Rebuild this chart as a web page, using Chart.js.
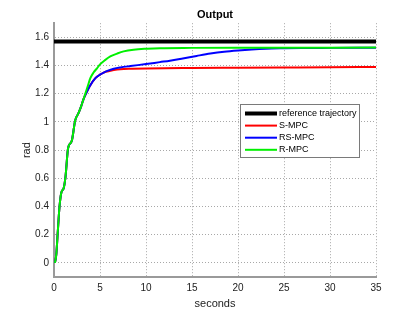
<!DOCTYPE html>
<html>
<head>
<meta charset="utf-8">
<title>Output</title>
<script src="https://cdn.jsdelivr.net/npm/chart.js@4.4.1/dist/chart.umd.min.js"></script>
<style>
  html, body { margin: 0; padding: 0; background: #fff; }
  #wrap { width: 415px; height: 312px; }
</style>
</head>
<body>
<div id="wrap"><canvas id="outChart" width="415" height="312"></canvas></div>
<script>
// axis ticks
const xTicks = [0, 5, 10, 15, 20, 25, 30, 35];
const yTicks = [0, 0.2, 0.4, 0.6, 0.8, 1, 1.2, 1.4, 1.6];

// reference trajectory (pi/2)
const refTime = [0, 35];
const refValue = [1.5708, 1.5708];

// S-MPC
const smpcTime = [0.1, 0.25, 0.4, 0.6, 0.8, 1.05, 1.25, 1.5, 1.6, 1.95, 2.3, 2.65, 2.95, 3.2, 3.4, 3.95, 4.5, 5.0, 5.4, 5.8, 6.5, 7.2, 8.5, 10, 15, 20, 25, 30, 35];
const smpcValue = [0, 0.06, 0.21, 0.40, 0.50, 0.53, 0.61, 0.80, 0.83, 0.87, 1.01, 1.06, 1.11, 1.16, 1.19, 1.26, 1.31, 1.335, 1.35, 1.358, 1.368, 1.374, 1.377, 1.379, 1.382, 1.384, 1.386, 1.388, 1.389];

// RS-MPC
const rsmpcTime = [0.1, 0.25, 0.4, 0.6, 0.8, 1.05, 1.25, 1.5, 1.6, 1.95, 2.3, 2.65, 2.95, 3.2, 3.4, 3.95, 4.5, 5.0, 5.4, 5.8, 6.5, 7.2, 8.3, 10, 11.5, 12.6, 14, 15.5, 17, 18.5, 20, 21.5, 23, 25, 27, 30, 35];
const rsmpcValue = [0, 0.06, 0.21, 0.40, 0.50, 0.53, 0.61, 0.80, 0.83, 0.87, 1.01, 1.06, 1.11, 1.16, 1.19, 1.26, 1.31, 1.335, 1.35, 1.362, 1.377, 1.386, 1.396, 1.41, 1.424, 1.434, 1.45, 1.468, 1.485, 1.498, 1.507, 1.514, 1.519, 1.522, 1.524, 1.525, 1.526];

// R-MPC
const rmpcTime = [0.1, 0.25, 0.4, 0.6, 0.8, 1.05, 1.25, 1.5, 1.6, 1.95, 2.3, 2.65, 2.95, 3.2, 3.4, 3.7, 3.95, 4.3, 4.67, 5.03, 5.58, 6.12, 6.85, 7.57, 8.65, 10.1, 11.5, 15, 20, 35];
const rmpcValue = [0, 0.06, 0.21, 0.40, 0.50, 0.53, 0.61, 0.80, 0.83, 0.87, 1.01, 1.06, 1.11, 1.16, 1.2, 1.26, 1.31, 1.35, 1.38, 1.41, 1.44, 1.464, 1.484, 1.50, 1.512, 1.519, 1.523, 1.525, 1.526, 1.527];

const FONT = '"Liberation Sans", Arial, Helvetica, sans-serif';

function pts(t, v) {
  return t.map((x, i) => ({ x: x, y: v[i] }));
}

// legend drawn inside the plot like MATLAB's
const legendBox = {
  id: 'legendBox',
  afterDraw(chart) {
    const ctx = chart.ctx;
    const x = 240, y = 104, w = 119, h = 53;
    ctx.save();
    ctx.fillStyle = '#fff';
    ctx.fillRect(x, y, w, h);
    ctx.strokeStyle = '#7a7a7a';
    ctx.lineWidth = 1;
    ctx.strokeRect(x + 0.5, y + 0.5, w, h);
    ctx.font = '9px ' + FONT;
    ctx.textBaseline = 'middle';
    chart.data.datasets.forEach((ds, i) => {
      const ry = y + 9.5 + i * 12.1;
      ctx.strokeStyle = ds.borderColor;
      ctx.lineWidth = ds.borderWidth;
      ctx.beginPath();
      ctx.moveTo(x + 5, ry);
      ctx.lineTo(x + 37, ry);
      ctx.stroke();
      ctx.fillStyle = '#000';
      ctx.fillText(ds.label, x + 39, ry);
    });
    ctx.restore();
  }
};

const gridOpts = { color: '#a8a8a8', lineWidth: 1, drawTicks: false };
const borderOpts = { display: true, color: '#9a9a9a', width: 2, dash: [1, 2] };

new Chart(document.getElementById('outChart'), {
  type: 'line',
  data: {
    datasets: [
      { label: 'reference trajectory', data: pts(refTime, refValue), borderColor: '#000000', borderWidth: 4, order: 3 },
      { label: 'S-MPC', data: pts(smpcTime, smpcValue), borderColor: '#ff0000', borderWidth: 2, order: 2 },
      { label: 'RS-MPC', data: pts(rsmpcTime, rsmpcValue), borderColor: '#0000ff', borderWidth: 2, order: 1 },
      { label: 'R-MPC', data: pts(rmpcTime, rmpcValue), borderColor: '#00f000', borderWidth: 2, order: 0 }
    ]
  },
  options: {
    responsive: false,
    animation: false,
    devicePixelRatio: 1,
    layout: { padding: { top: 0, right: 39, bottom: 0, left: 0 } },
    elements: {
      point: { radius: 0 },
      line: { cubicInterpolationMode: 'monotone', borderCapStyle: 'butt', fill: false }
    },
    plugins: {
      legend: { display: false },
      tooltip: { enabled: false },
      title: {
        display: true,
        fullSize: false,
        text: 'Output',
        color: '#000',
        font: { family: FONT, size: 11, weight: 'bold' },
        padding: { top: 8, bottom: 2 }
      }
    },
    scales: {
      x: {
        type: 'linear',
        min: 0,
        max: 35,
        grid: gridOpts,
        border: borderOpts,
        afterBuildTicks: (scale) => { scale.ticks = xTicks.map(v => ({ value: v })); },
        afterFit: (scale) => { scale.height = 35; },
        ticks: { color: '#222', font: { family: FONT, size: 10 }, padding: 5, autoSkip: false, maxRotation: 0, callback: (v) => String(v) },
        title: { display: true, text: 'seconds', color: '#222', font: { family: FONT, size: 11 }, padding: { top: 0, bottom: 1 } }
      },
      y: {
        type: 'linear',
        min: -0.1,
        max: 1.7,
        grid: gridOpts,
        border: borderOpts,
        afterBuildTicks: (scale) => { scale.ticks = yTicks.map(v => ({ value: v })); },
        afterFit: (scale) => { scale.width = 54; },
        ticks: { color: '#222', font: { family: FONT, size: 10 }, padding: 5, callback: (v) => String(v) },
        title: { display: true, text: 'rad', color: '#222', font: { family: FONT, size: 11 }, padding: { top: 20, bottom: 0 } }
      }
    }
  },
  plugins: [legendBox]
});
</script>
</body>
</html>
